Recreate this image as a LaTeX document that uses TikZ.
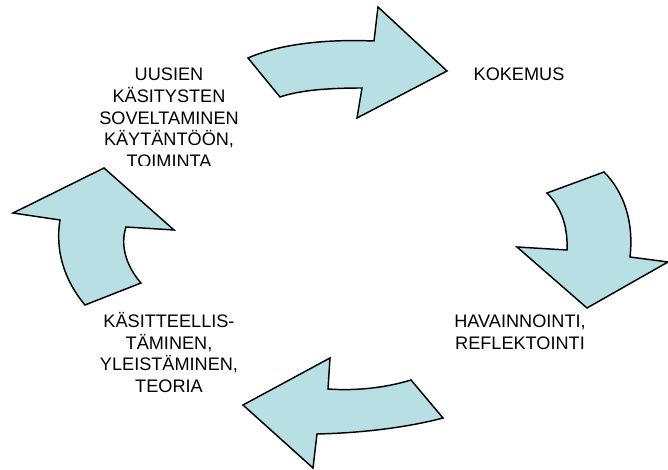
\documentclass[tikz,border=0pt]{standalone}
\usepackage{fontspec}
\setmainfont{Liberation Sans}
\usepackage{tikz}
\definecolor{arrowfill}{RGB}{184,223,227}

\begin{document}
\begin{tikzpicture}[x=0.75pt, y=-0.75pt,
        cyclearrow/.style={draw=black, line width=1.1pt, line join=miter, fill=arrowfill},
        stage/.style={align=center, inner sep=0pt, font=\fontsize{13.6}{16.2}\selectfont}]
            \useasboundingbox (0,0) rectangle (668,470);
            % top: towards kokemus
            \draw [cyclearrow] (248,58) .. controls (280,44) and (325,39) .. (374,41) -- (378,7) -- (447,71) -- (357,118) -- (362,88) .. controls (330,88) and (300,90) .. (280,97) -- cycle;
            % right: towards havainnointi
            \draw [cyclearrow] (547,193) -- (604,172) .. controls (624,192) and (634,222) .. (630,257) -- (668,262) -- (587,308) -- (517,247) -- (567,250) .. controls (568,228) and (562,208) .. cycle;
            % bottom: towards teoria
            \draw [cyclearrow] (411,380) -- (443,418) .. controls (405,428) and (360,433) .. (317,434) -- (313,468) -- (243,405) -- (330,358) -- (328,389) .. controls (355,391) and (385,388) .. cycle;
            % left: towards toiminta
            \draw [cyclearrow] (104,168) -- (174,230) -- (126,227) .. controls (120,245) and (126,266) .. (141,283) -- (85,305) .. controls (64,280) and (55,250) .. (60,220) -- (13,213) -- cycle;
            \node [stage, anchor=north] (kokemus) at (519,68) {KOKEMUS};
            \node [stage, anchor=north] (havainnointi) at (520,315) {HAVAINNOINTI,\\REFLEKTOINTI};
            \node [stage, anchor=north] (teoria) at (169,312) {KÄSITTEELLIS-\\TÄMINEN,\\YLEISTÄMINEN,\\TEORIA};
            \begin{scope}
                \clip (80,50) rectangle (260,166);
                \node [stage, anchor=north] (toiminta) at (169,68) {UUSIEN\\KÄSITYSTEN\\SOVELTAMINEN\\KÄYTÄNTÖÖN,\\TOIMINTA};
            \end{scope}
        \end{tikzpicture}
\end{document}
